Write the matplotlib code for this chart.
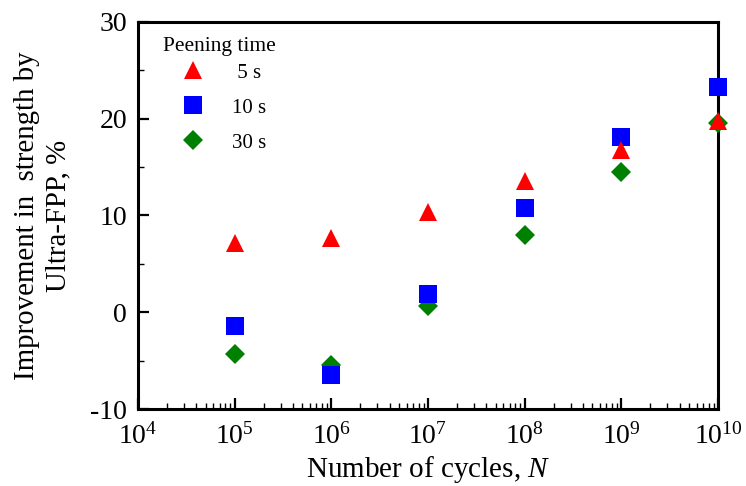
import matplotlib
matplotlib.use("Agg")
import matplotlib.pyplot as plt
from matplotlib.ticker import LogLocator, MultipleLocator

plt.rcParams['font.family'] = ['Liberation Serif', 'DejaVu Serif']
plt.rcParams['mathtext.fontset'] = 'custom'
plt.rcParams['mathtext.rm'] = 'Liberation Serif'
plt.rcParams['mathtext.it'] = 'Liberation Serif:italic'
plt.rcParams['axes.unicode_minus'] = False

cycles = [1e5, 1e6, 1e7, 1e8, 1e9, 1e10]
s5 = [7.2, 7.7, 10.4, 13.6, 16.8, 19.8]
s10 = [-1.4, -6.5, 1.9, 10.8, 18.1, 23.3]
s30 = [-4.3, -5.5, 0.6, 8.0, 14.5, 19.6]
labels = [' 5 s', '10 s', '30 s']
legend_title = 'Peening time'

W, H = 746, 486
fig = plt.figure(figsize=(W / 100, H / 100), dpi=100)
ax_l, ax_r, ax_t, ax_b = 138, 718, 22, 409
ax = fig.add_axes([ax_l / W, 1 - ax_b / H, (ax_r - ax_l) / W, (ax_b - ax_t) / H])

h30, = ax.plot(cycles, s30, linestyle='none', marker='D', color='#008000', ms=10.5,
               markeredgewidth=0, clip_on=False, zorder=3)
h10, = ax.plot(cycles, s10, linestyle='none', marker='s', color='#0000ff', ms=13,
               markeredgewidth=0, clip_on=False, zorder=4)
h5, = ax.plot(cycles, s5, linestyle='none', marker='^', color='#ff0000', ms=13.5,
              markeredgewidth=0, clip_on=False, zorder=5)

ax.set_xscale('log')
ax.set_xlim(1e4, 1e10)
ax.set_ylim(-10, 30)
ax.xaxis.set_major_locator(LogLocator(base=10, numticks=20))
ax.xaxis.set_minor_locator(LogLocator(base=10, subs=range(2, 10), numticks=20))
ax.yaxis.set_major_locator(MultipleLocator(10))
ax.yaxis.set_minor_locator(MultipleLocator(5))

for sp in ax.spines.values():
    sp.set_linewidth(2.2)

ax.tick_params(axis='both', which='major', direction='in', labelsize=20, width=1.6, length=8)
ax.tick_params(axis='both', which='minor', direction='in', width=1.0, length=4)
ax.tick_params(axis='x', which='major', pad=10)
ax.tick_params(axis='y', which='major', pad=8)
ax.tick_params(top=False, right=False, which='both')

fig.text((ax_l + ax_r) / 2 / W, 1 / H, 'Number of cycles, $N$', fontsize=21,
         ha='center', va='bottom')
fig.text(43 / W, 1 - 216 / H, 'Improvement in  strength by\nUltra-FPP, %', fontsize=20.8,
         rotation=90, ha='center', va='center', multialignment='center', linespacing=1.25)

leg = ax.legend([h5, h10, h30], labels, loc='upper left',
                bbox_to_anchor=((172 - ax_l) / (ax_r - ax_l), (ax_b - 63) / (ax_b - ax_t)),
                frameon=False, fontsize=15, handlelength=2.0, handletextpad=0.87,
                labelspacing=0.74, borderaxespad=0, borderpad=0)
ax.text((219 - ax_l) / (ax_r - ax_l), (ax_b - 46) / (ax_b - ax_t), legend_title,
        transform=ax.transAxes, fontsize=15.5, ha='center', va='center')

fig.savefig('out.png', dpi=100)
